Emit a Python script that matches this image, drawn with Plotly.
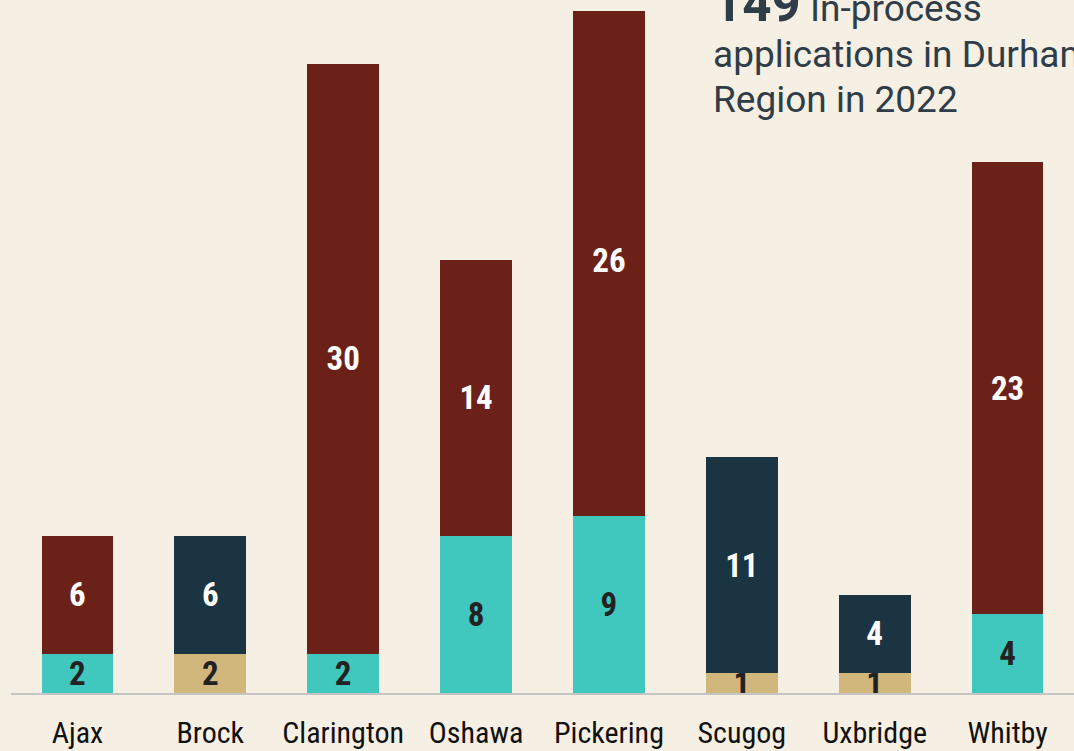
import plotly.graph_objects as go

municipalities = ["Ajax", "Brock", "Clarington", "Oshawa", "Pickering", "Scugog", "Uxbridge", "Whitby"]
teal_values = [2, None, 2, 8, 9, None, None, 4]
tan_values = [None, 2, None, None, None, 1, 1, None]
red_values = [6, None, 30, 14, 26, None, None, 23]
navy_values = [None, 6, None, None, None, 11, 4, None]

total_text = "149"
headline_lines = ["In-process", "applications in Durham", "Region in 2022"]

BG = "#f5efe4"
LABEL_FONT = "Roboto Condensed, Liberation Sans Narrow, Roboto, sans-serif"

series = [
    (teal_values, "#40c8be", "#222222"),
    (tan_values, "#d2b77c", "#222222"),
    (red_values, "#6c2118", "#ffffff"),
    (navy_values, "#1b3442", "#ffffff"),
]

fig = go.Figure()
for vals, color, tcolor in series:
    fig.add_trace(go.Bar(
        x=municipalities,
        y=vals,
        marker=dict(color=color, line=dict(width=0)),
        text=[("" if v is None else str(v)) for v in vals],
        textposition="inside",
        insidetextanchor="middle",
        constraintext="none",
        cliponaxis=False,
        textangle=0,
        textfont=dict(family=LABEL_FONT, size=33, color=tcolor, weight="bold"),
        hoverinfo="skip",
        showlegend=False,
    ))

PLOT_TOP, BASELINE = 4, 693
plot_h = BASELINE - PLOT_TOP

# the top strip of the chart is cropped in the reference
fig.add_shape(
    type="rect", xref="paper", yref="paper", layer="above",
    x0=-0.05, x1=1.05, y0=(BASELINE - 11) / plot_h, y1=(BASELINE + 5) / plot_h,
    fillcolor=BG, line=dict(width=0),
)

line_texts = [
    "<span style='font-size:51px'><b>" + total_text + "</b></span> " + headline_lines[0],
    headline_lines[1],
    headline_lines[2],
]
line_bottoms = [35, 78, 123]
for txt, bottom in zip(line_texts, line_bottoms):
    fig.add_annotation(
        xref="paper", yref="paper",
        x=(711 - 11) / 1063, y=(BASELINE - bottom) / plot_h,
        xanchor="left", yanchor="bottom", align="left",
        showarrow=False,
        text=txt,
        font=dict(family="Roboto, sans-serif", size=37, color="#2e3d48"),
    )

fig.update_layout(
    width=1074, height=751,
    margin=dict(l=11, r=0, t=PLOT_TOP, b=751 - BASELINE),
    paper_bgcolor=BG, plot_bgcolor=BG,
    barmode="stack",
    bargap=0.46,
    xaxis=dict(
        showline=True, linecolor="#c4c4c4", linewidth=2,
        ticks="outside", ticklen=12, tickcolor="rgba(0,0,0,0)",
        tickfont=dict(family=LABEL_FONT, size=30, color="#111111"),
        showgrid=False, zeroline=False, fixedrange=True,
    ),
    yaxis=dict(
        range=[0, plot_h / 19.67], visible=False, showgrid=False,
        zeroline=False, fixedrange=True,
    ),
)

fig.write_html(
    "out.html",
    config={"displayModeBar": False, "staticPlot": True},
    post_script="document.body.style.margin='0';document.body.style.background='" + BG + "';",
)
